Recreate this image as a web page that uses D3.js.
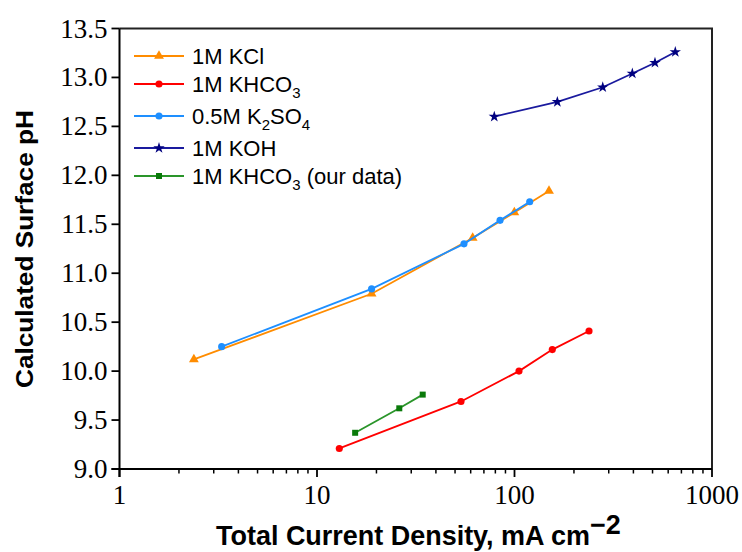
<!DOCTYPE html>
<html>
<head>
<meta charset="utf-8">
<script src="https://cdn.jsdelivr.net/npm/d3@7"></script>
<style>
  body { margin: 0; background: #fff; }
  svg { display: block; }
</style>
</head>
<body>
<svg id="chart" width="742" height="552"></svg>
<script>
// series data
const seriesNames = ['1M KCl', '1M KHCO3', '0.5M K2SO4', '1M KOH', '1M KHCO3 (our data)']

const kclX = [2.38, 18.9, 61.4, 99.8, 149.5]
const kclY = [10.12, 10.79, 11.36, 11.62, 11.84]

const khco3X = [12.97, 53.6, 105.4, 155.4, 238.4]
const khco3Y = [9.21, 9.69, 10.0, 10.22, 10.41]

const k2so4X = [3.29, 18.9, 55.5, 84.5, 119.4]
const k2so4Y = [10.25, 10.84, 11.30, 11.54, 11.73]

const kohX = [79.0, 164.8, 279.8, 395, 514.4, 651.9]
const kohY = [12.60, 12.75, 12.90, 13.04, 13.15, 13.26]

const oursX = [15.6, 26.1, 34.3]
const oursY = [9.37, 9.62, 9.76]

const xTicks = [1, 10, 100, 1000]
const yTicks = [9.0, 9.5, 10.0, 10.5, 11.0, 11.5, 12.0, 12.5, 13.0, 13.5]

const series = [
  { name: seriesNames[0], xs: kclX, ys: kclY, color: '#ff8c00', marker: 'triangle' },
  { name: seriesNames[1], xs: khco3X, ys: khco3Y, color: '#ff0000', marker: 'circle' },
  { name: seriesNames[2], xs: k2so4X, ys: k2so4Y, color: '#1e8fff', marker: 'circle' },
  { name: seriesNames[3], xs: kohX, ys: kohY, color: '#1a1a9e', marker: 'star', fill: '#00007f' },
  { name: seriesNames[4], xs: oursX, ys: oursY, color: '#2a952a', marker: 'square', fill: '#0a7a0a' }
]

const svg = d3.select('#chart')
const mLeft = 119.5, mRight = 712, mTop = 28.5, mBottom = 469

const x = d3.scaleLog().domain([1, 1000]).range([mLeft, mRight])
const y = d3.scaleLinear().domain([9, 13.5]).range([mBottom, mTop])

const serif = "'Liberation Serif', 'Times New Roman', serif"
const sans = "'Liberation Sans', Arial, sans-serif"

// frame (top + right)
svg.append('path')
  .attr('d', `M${mLeft},${mTop}H${mRight}V${mBottom}`)
  .attr('fill', 'none')
  .attr('stroke', '#222')
  .attr('stroke-width', 2)

// x axis with minor ticks
const minor = []
for (let d = 1; d < 1000; d *= 10) {
  for (let k = 2; k <= 9; k++) minor.push(d * k)
}
const gx = svg.append('g').attr('transform', `translate(0,${mBottom})`)
gx.selectAll('.minor').data(minor).enter().append('line')
  .attr('class', 'minor')
  .attr('x1', d => x(d)).attr('x2', d => x(d))
  .attr('y1', 0).attr('y2', 4.5)
  .attr('stroke', '#000').attr('stroke-width', 1.5)
gx.selectAll('.major').data(xTicks).enter().append('line')
  .attr('class', 'major')
  .attr('x1', d => x(d)).attr('x2', d => x(d))
  .attr('y1', 0).attr('y2', 8)
  .attr('stroke', '#000').attr('stroke-width', 1.8)
gx.append('line')
  .attr('x1', mLeft - 8).attr('x2', mRight)
  .attr('stroke', '#000').attr('stroke-width', 2)
gx.selectAll('.lbl').data(xTicks).enter().append('text')
  .attr('class', 'lbl')
  .attr('x', d => x(d)).attr('y', 35)
  .attr('text-anchor', 'middle')
  .attr('font-family', serif).attr('font-size', 27)
  .text(d => d)

// y axis
const gy = svg.append('g').attr('transform', `translate(${mLeft},0)`)
gy.append('line')
  .attr('y1', mTop).attr('y2', mBottom + 8)
  .attr('stroke', '#000').attr('stroke-width', 2)
gy.selectAll('.major').data(yTicks).enter().append('line')
  .attr('class', 'major')
  .attr('x1', -8).attr('x2', 0)
  .attr('y1', d => y(d)).attr('y2', d => y(d))
  .attr('stroke', '#000').attr('stroke-width', 1.8)
gy.selectAll('.lbl').data(yTicks).enter().append('text')
  .attr('class', 'lbl')
  .attr('x', -12).attr('y', d => y(d) + 9)
  .attr('text-anchor', 'end')
  .attr('font-family', serif).attr('font-size', 27)
  .text(d => d.toFixed(1))

// markers
const symbolFor = {
  triangle: d3.symbol().type(d3.symbolTriangle).size(42),
  circle: d3.symbol().type(d3.symbolCircle).size(40),
  star: d3.symbol().type(d3.symbolStar).size(40),
  square: d3.symbol().type(d3.symbolSquare).size(36)
}

const line = d3.line().x(d => x(d[0])).y(d => y(d[1]))

series.forEach(s => {
  const pts = s.xs.map((v, i) => [v, s.ys[i]])
  svg.append('path')
    .datum(pts)
    .attr('d', line)
    .attr('fill', 'none')
    .attr('stroke', s.color)
    .attr('stroke-width', 1.8)
  svg.selectAll(null).data(pts).enter().append('path')
    .attr('d', symbolFor[s.marker])
    .attr('transform', d => `translate(${x(d[0])},${y(d[1])})`)
    .attr('fill', s.fill || s.color)
})

// legend
const legendY = [56, 84, 116, 148, 176]
const legend = svg.append('g')
series.forEach((s, i) => {
  const g = legend.append('g').attr('transform', `translate(0,${legendY[i]})`)
  g.append('line').attr('x1', 134).attr('x2', 184)
    .attr('stroke', s.color).attr('stroke-width', 1.8)
  g.append('path').attr('d', symbolFor[s.marker])
    .attr('transform', 'translate(159,0)')
    .attr('fill', s.fill || s.color)
  const t = g.append('text').attr('x', 192).attr('y', 8)
    .attr('font-family', sans).attr('font-size', 22)
  // put digits after a letter into subscripts (K2SO4, KHCO3)
  const parts = s.name.split(/(?<=[A-Z])(\d)/)
  parts.forEach((p, k) => {
    if (k % 2 === 1) {
      t.append('tspan').attr('dy', 6).attr('font-size', 15).text(p)
    } else if (p) {
      t.append('tspan').attr('dy', k === 0 ? 0 : -6).text(p)
    }
  })
})

// axis titles
const xt = svg.append('text')
  .attr('x', 0).attr('y', 0)
  .attr('font-family', sans).attr('font-weight', 'bold').attr('font-size', 27)
xt.append('tspan').text('Total Current Density, mA cm')
xt.append('tspan').attr('dy', -11).attr('font-size', 27).text('\u22122')
const xw = xt.node().getBBox().width
xt.attr('transform', `translate(216,545) scale(${405 / xw},1)`)

const yt = svg.append('text')
  .attr('font-family', sans).attr('font-weight', 'bold').attr('font-size', 24)
  .text('Calculated Surface pH')
const yw = yt.node().getBBox().width
yt.attr('transform', `translate(33,${249 + 278 / 2}) rotate(-90) scale(${278 / yw},1)`)
</script>
</body>
</html>
